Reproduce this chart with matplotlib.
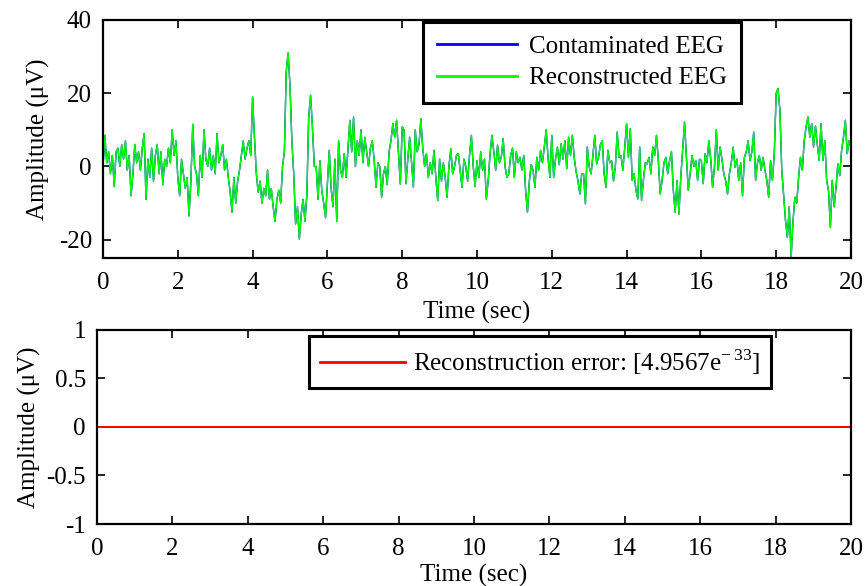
import numpy as np
import matplotlib
matplotlib.use("Agg")
import matplotlib.pyplot as plt

plt.rcParams['font.family'] = ['Liberation Serif', 'DejaVu Serif']
plt.rcParams['mathtext.fontset'] = 'custom'
plt.rcParams['mathtext.rm'] = 'Liberation Serif'
plt.rcParams['axes.unicode_minus'] = False

FS = 18
DT = 0.05  # sample spacing (sec)

# contaminated EEG (uV), one row per second
contaminated = np.array([
    0, 8.5, 1, 4, -2, 3, -5.5, 4, 5, 0, 6, 2, 7, -1, 3, -8, -2, 6, 1, 4,
    -1, 5, 9, -9, 2, -3, 5, -4, 3, 6, -2, 4, -5, 2, 0, 5, 1, 10, 3, 7,
    -3, -8, 2, -2, -6, -3, -13.5, -4, 11.5, 0, -2, -8, 3, -3, 10, 2, 0, 5, -1, 3,
    -2, 9, 1, 3, 6, -1, 2, -3, -7, -12.5, -3, -10, -4, -1, 3, 7, 2, 5, 7, 3,
    19, 8, -2, -7, -4, -10, -6, -8, -1, -9, -6, -11, -15, -9, -6.5, -10, 0, 4, 26, 31,
    22, 7, -2, -15.7, -11, -19.8, -13, -9, -15, -8, 13.5, 19.5, 10.8, 0, 0, -9, 1.6, -6.6, -10, -14,
    -4.8, 4.4, -6, -11, 2, -15, 7, -1, -3, 3.5, -3, 5, 12.6, 4, 13.5, 0, 7, 3, 10, 1,
    8, 4, 0, 5, 7, 2, -5.7, 1, 0, -8.4, -2, 0, -5, 4, 7, 11.7, 8, 12.6, 4, -4.8,
    10.8, 10, -4.7, 2, 8, 1, -5.7, 10, 4, 6, 13, 5, 0, 3.5, -3, 1, -2, 4.4, -3, -9.3,
    2, -4, 1, -3, -8.4, 0, 4.8, -2, 0, 3, 3.5, -1, -5.7, 2, 0, -4, 3, 8.5, 0, -5.5,
    1.6, -3, 4, -1, 2, -8.9, -3.8, 3.5, 8.5, 4, -1, 5.8, 1, 2.5, 7.6, 0, -3, -2, 3, 5,
    -3, 4, 1, 2.5, -1, 3, -6.5, -12.5, -4, 0.5, -1, -5.7, 2.5, -1, 4.4, 1, 5.3, 10, 2.5, -3,
    8.5, -3, 2, 5.3, 0.5, 6.2, 2, 7, -0.6, 8, 3, 8.5, 2.5, -1.5, -3.8, -7.5, -2, -2, -10.2, 5.3,
    0, -2, 3, 8.5, 0.7, 2.5, 6, 7, -2, -5.7, 4.4, 1, 1.6, -4, 0, 9.4, 2.5, 3, -1, 5,
    11.7, 2.5, 10.3, -3.8, -2, -6.5, -8.9, 5.3, -9.3, -3.8, 1, 0.7, 2.5, -2, 5.3, 3, 8.5, 1.6, -7.5, -3.8,
    1, 2.5, -2, 1.6, 4, -6.5, -12.5, -3.8, -13, -2.9, 4.4, 12.1, 2.5, -6.5, -2, 3, 0, 1.6, -3.8, 2,
    1.6, -4.7, 3.5, 1, 7, 2, -5.7, 0, 10, -1, 5.3, 2, -2, -4, -7.5, -2, 1, 5.3, -0.2, 2,
    -3.8, 1, -8, 2.5, 4, 7, 1.6, 4, 9.4, -3.8, 1, 3, -1, 2.5, -1, -3.8, -8.4, 1.6, -3.8, 3.5,
    20, 21.3, 15.3, -1, -8, -14.8, -19.4, -11, -24.8, -15, -8.4, -10, -3, 2.5, -1, 7, 10.8, 13.5, 8, 11.7,
    5.3, 11, 6, 1.6, 11.7, 1.6, 7, -3.8, -6.6, -16.6, -3.8, -11, -5.7, 0.7, -2.5, 4.4, 8, 12.6, 3.5, 7,
    5.3,
])
reconstructed = contaminated.copy()
rec_error = contaminated - reconstructed
time = np.arange(len(contaminated)) * DT

error_label = r"Reconstruction error: [4.9567e$^{-\,33}$]"


def style_axes(ax):
    for s in ax.spines.values():
        s.set_linewidth(1.6)
    ax.tick_params(direction='in', length=6, width=1.2, top=True, right=True,
                   labelsize=FS)
    ax.tick_params(axis='x', pad=10)
    ax.tick_params(axis='y', pad=8)
    ax.set_xlim(0, 20)
    ax.set_xticks(np.arange(0, 21, 2))


fig = plt.figure(figsize=(8.67, 5.86), dpi=100)
ax1 = fig.add_axes([0.1188, 0.5597, 0.8627, 0.4062])
ax2 = fig.add_axes([0.1119, 0.1058, 0.8696, 0.3311])

ax1.plot(time, contaminated, color='#0000FF', lw=1.0, label='Contaminated EEG')
ax1.plot(time, reconstructed, color='#00FF00', lw=1.0, label='Reconstructed EEG')
style_axes(ax1)
ax1.set_ylim(-25, 40)
ax1.set_yticks([-20, 0, 20, 40])
ax1.set_xlabel('Time (sec)', fontsize=FS, labelpad=5)
ax1.set_ylabel('Amplitude (μV)', fontsize=FS, labelpad=6)
leg1 = ax1.legend(loc='upper left', bbox_to_anchor=(0.428, 0.992), borderaxespad=0,
                  fontsize=FS, fancybox=False, edgecolor='black', framealpha=1,
                  handlelength=3.2, handletextpad=0.5, borderpad=0.55, labelspacing=0.35)
leg1.get_frame().set_linewidth(2.2)
for h in leg1.get_lines():
    h.set_linewidth(2)

ax2.plot(time, rec_error, color='#FF0000', lw=1.4, label=error_label)
style_axes(ax2)
ax2.set_ylim(-1, 1)
ax2.set_yticks([-1, -0.5, 0, 0.5, 1])
ax2.set_yticklabels(['-1', '-0.5', '0', '0.5', '1'])
ax2.set_xlabel('Time (sec)', fontsize=FS, labelpad=3)
ax2.set_ylabel('Amplitude (μV)', fontsize=FS, labelpad=4)
leg2 = ax2.legend(loc='upper left', bbox_to_anchor=(0.281, 0.969), borderaxespad=0,
                  fontsize=FS, fancybox=False, edgecolor='black', framealpha=1,
                  handlelength=3.4, handletextpad=0.3, borderpad=0.45)
leg2.get_frame().set_linewidth(2.2)
for h in leg2.get_lines():
    h.set_linewidth(2)

fig.savefig('out.png', dpi=100)
